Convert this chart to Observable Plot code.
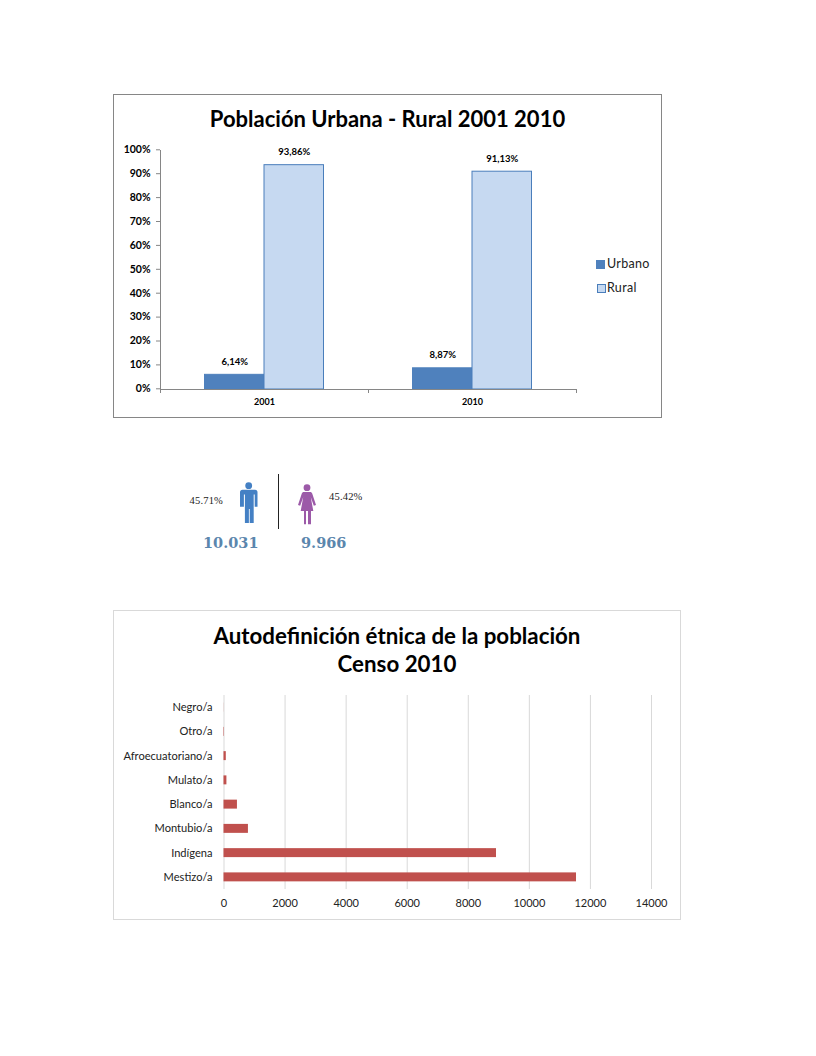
<!DOCTYPE html>
<html lang="es">
<head>
<meta charset="utf-8">
<script src="https://cdn.jsdelivr.net/npm/d3@7"></script>
<script src="https://cdn.jsdelivr.net/npm/@observablehq/plot@0.6"></script>
<style>
html,body{margin:0;padding:0;background:#fff;}
body{position:relative;width:816px;height:1056px;overflow:hidden;font-family:Lato,sans-serif;color:#000;}
.box{position:absolute;box-sizing:border-box;background:#fff;}
.box svg{position:absolute;left:0;top:0;}
.title{position:absolute;text-align:center;font-weight:700;line-height:28px;white-space:nowrap;}
.abs{position:absolute;white-space:nowrap;}
.swatch{position:absolute;width:9px;height:9px;box-sizing:border-box;}
</style>
</head>
<body>
<div id="c1" class="box" style="left:113px;top:94px;width:549px;height:324px;border:1px solid #868686;"></div>
<div class="title" style="left:113px;width:549px;top:105px;font-size:22px;">Población Urbana - Rural 2001 2010</div>
<div class="swatch" style="left:596px;top:260px;background:#4f81bd;"></div>
<div class="abs" style="left:607px;top:256px;font-size:12.5px;letter-spacing:.3px;color:#222;">Urbano</div>
<div class="swatch" style="left:597px;top:284px;background:#c6d9f1;border:1px solid #4a7ebb;"></div>
<div class="abs" style="left:607px;top:280px;font-size:12.5px;letter-spacing:.3px;color:#222;">Rural</div>

<div class="abs" style="left:189.5px;top:495px;font:10.5px 'Liberation Serif',serif;letter-spacing:.2px;color:#222;">45.71%</div>
<svg class="abs" style="left:238px;top:481px;" width="22" height="46" viewBox="0 0 22 46">
  <circle cx="10.7" cy="4.7" r="3.4" fill="#4480c4"/>
  <path d="M4.5 8.7h12.5a2.5 2.5 0 0 1 2.5 2.5V25.7h-2.8V13.5h-1V42h-4V28h-.8v14h-4V13.5h-1V25.7H2V11.2a2.5 2.5 0 0 1 2.5-2.5z" fill="#4480c4"/>
</svg>
<div class="abs" style="left:278px;top:474px;width:1px;height:55px;background:#222;"></div>
<svg class="abs" style="left:296px;top:481px;" width="22" height="46" viewBox="0 0 22 46">
  <circle cx="11" cy="6.7" r="3.4" fill="#9c5aa8"/>
  <path d="M7.8 11h6.4c1 0 1.7.6 2 1.5l3.8 11.6-2.2.7-3-8.5 2.5 13.7H15v13.3h-3V30h-2v13.3H8V30H4.7l2.500-13.700-3 8.500-2.200-.700 3.800-11.600c.300-.900 1-1.500 2-1.500z" fill="#9c5aa8"/>
</svg>
<div class="abs" style="left:329px;top:491px;font:10.5px 'Liberation Serif',serif;letter-spacing:.2px;color:#222;">45.42%</div>
<div class="abs" style="left:203px;top:534px;font:700 14.5px 'DejaVu Serif',serif;color:#5b86ad;">10.031</div>
<div class="abs" style="left:301px;top:534px;font:700 14.5px 'DejaVu Serif',serif;color:#5b86ad;">9.966</div>

<div id="c2" class="box" style="left:113px;top:610px;width:568px;height:310px;border:1px solid #d9d9d9;"></div>
<div class="title" style="left:113px;width:568px;top:622px;font-size:22.3px;">Autodefinición étnica de la población<br>Censo 2010</div>

<script>
const years = ["2001", "2010"];
const series = ["Urbano", "Rural"];
const urbano = [6.14, 8.87];
const rural = [93.86, 91.13];
const percentTicks = [0, 10, 20, 30, 40, 50, 60, 70, 80, 90, 100];

const etnias = ["Negro/a", "Otro/a", "Afroecuatoriano/a", "Mulato/a", "Blanco/a", "Montubio/a", "Indígena", "Mestizo/a"];
const poblacion = [3, 15, 75, 95, 440, 800, 8924, 11544];
const poblacionTicks = [0, 2000, 4000, 6000, 8000, 10000, 12000, 14000];

const FONT = "Lato";
const AXIS = "#868686";

const rows = years.flatMap((year, i) => [
  {year, serie: series[0], value: urbano[i]},
  {year, serie: series[1], value: rural[i]}
]);

// Facets call a render mark once each, with the dimensions of one facet. The axis frame spans
// every facet, so it is drawn on the first call only, stepping one facet width per group.
function axisLines(groups) {
  let drawn = false;
  return (index, scales, values, dim) => {
    if (drawn) return null;
    drawn = true;
    const left = dim.marginLeft, step = dim.width - dim.marginRight - dim.marginLeft;
    const top = dim.marginTop, bottom = dim.height - dim.marginBottom;
    const g = d3.create("svg:g").attr("stroke", AXIS).attr("fill", "none");
    g.append("line").attr("x1", left + .5).attr("x2", left + .5).attr("y1", top).attr("y2", bottom);
    g.append("line").attr("x1", left).attr("x2", left + groups * step).attr("y1", bottom + .5).attr("y2", bottom + .5);
    for (let k = 0; k <= groups; k++) {
      const x = Math.round(left + k * step) + .5;
      g.append("line").attr("x1", x).attr("x2", x).attr("y1", bottom).attr("y2", bottom + 4);
    }
    return g.node();
  };
}

const chart1 = Plot.plot({
  width: 547, height: 322,
  marginLeft: 46, marginRight: 85, marginTop: 55, marginBottom: 28,
  style: {fontFamily: FONT, background: "transparent", color: "#000"},
  fx: {domain: years, padding: 0, round: false, label: null},
  x: {domain: series, paddingInner: 0, paddingOuter: 0.748, round: false, axis: null},
  y: {domain: [0, 100], label: null},
  color: {domain: series, range: ["#4f81bd", "#c6d9f1"]},
  marks: [
    Plot.axisFx({tickSize: 0, tickPadding: 9, fontSize: 9, fontWeight: 700, label: null, anchor: "bottom"}),
    Plot.axisY({ticks: percentTicks, tickFormat: d => d + "%", tickSize: 4, tickPadding: 6, stroke: AXIS, fontSize: 10.5, fontWeight: 700, label: null, textStroke: "none", dy: -0.7}),
    Plot.barY(rows, {fx: "year", x: "serie", y: "value", fill: "serie", stroke: d => d.serie === "Rural" ? "#4a7ebb" : "#4f81bd", strokeWidth: 1}),
    axisLines(years.length),
    Plot.text(rows, {fx: "year", x: "serie", y: "value", text: d => d.value.toFixed(2).replace(".", ",") + "%", dy: -13, fontSize: 9.5, fontWeight: 700, fill: "#000"})
  ]
});
document.getElementById("c1").append(chart1);

const chart2 = Plot.plot({
  width: 566, height: 308,
  marginLeft: 109.5, marginRight: 29, marginTop: 84, marginBottom: 30,
  style: {fontFamily: FONT, background: "transparent", color: "#000"},
  x: {domain: [0, 14000], label: null},
  y: {domain: etnias, paddingInner: 0.63, paddingOuter: 0.315, label: null, round: false},
  marks: [
    Plot.gridX(poblacionTicks, {stroke: "#d9d9d9", strokeOpacity: 1}),
    Plot.barX(etnias.map((etnia, i) => ({etnia, total: poblacion[i]})), {y: "etnia", x: "total", fill: "#c0504d"}),
    Plot.axisX({ticks: poblacionTicks, tickFormat: d => String(d), tickSize: 0, tickPadding: 10, fontSize: 11, label: null, fill: "#222"}),
    Plot.axisY({tickSize: 0, tickPadding: 11.5, fontSize: 11.1, label: null, fill: "#222"})
  ]
});
document.getElementById("c2").append(chart2);
</script>
</body>
</html>
